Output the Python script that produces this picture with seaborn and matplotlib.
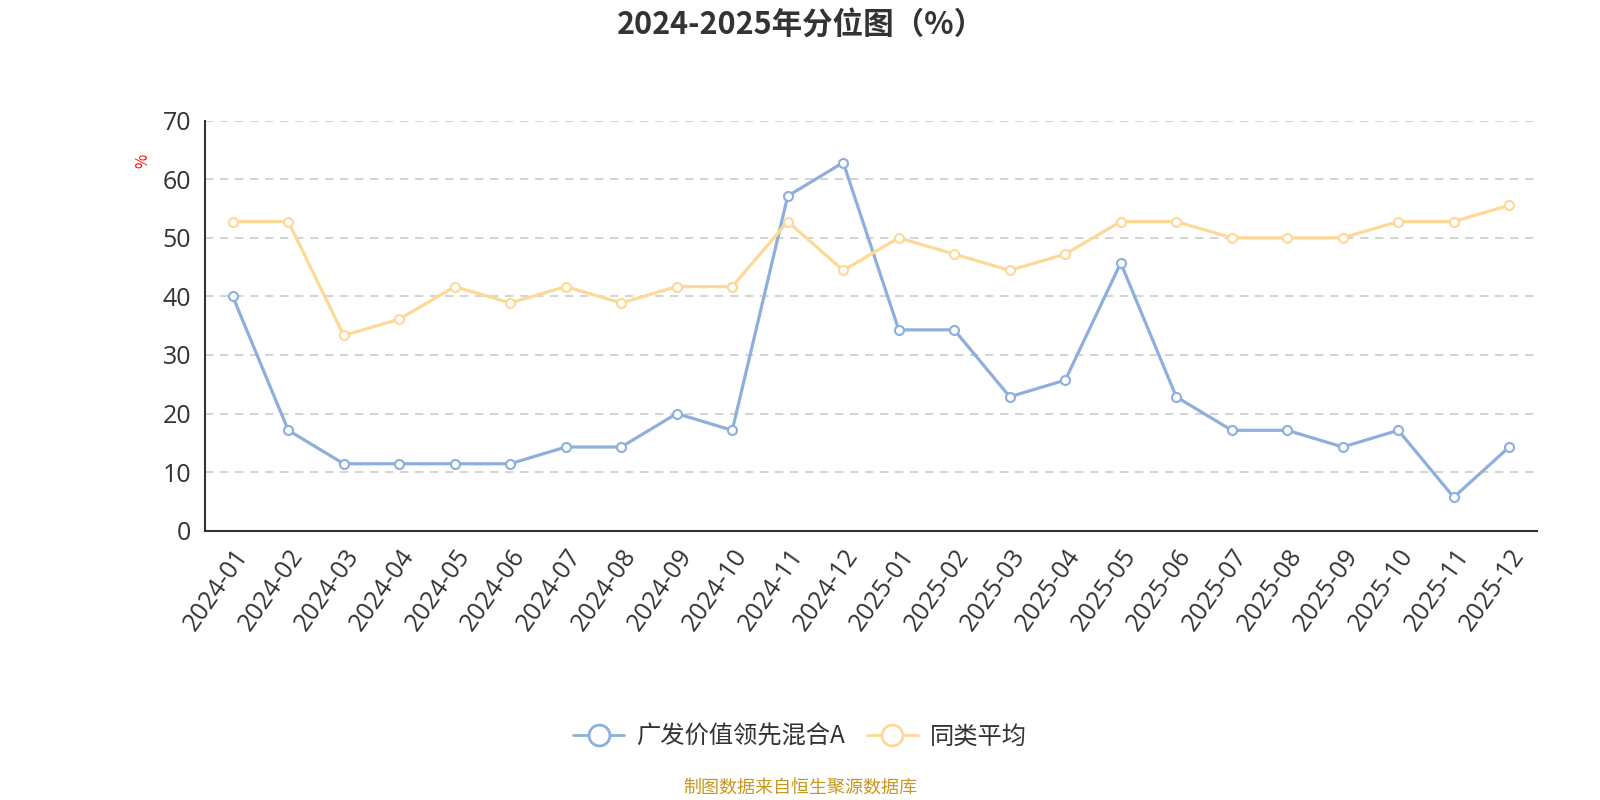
import matplotlib
matplotlib.use("Agg")
import matplotlib.pyplot as plt
from matplotlib.ticker import FixedLocator
from matplotlib.lines import Line2D
import seaborn as sns
import pandas as pd

months = ["2024-01", "2024-02", "2024-03", "2024-04", "2024-05", "2024-06",
          "2024-07", "2024-08", "2024-09", "2024-10", "2024-11", "2024-12",
          "2025-01", "2025-02", "2025-03", "2025-04", "2025-05", "2025-06",
          "2025-07", "2025-08", "2025-09", "2025-10", "2025-11", "2025-12"]
fund_name = "广发价值领先混合A"
peer_name = "同类平均"
fund_values = [40.00, 17.14, 11.43, 11.43, 11.43, 11.43, 14.29, 14.29, 20.00, 17.14,
               57.14, 62.86, 34.29, 34.29, 22.86, 25.71, 45.71, 22.86, 17.14, 17.14,
               14.29, 17.14, 5.71, 14.29]
peer_values = [52.78, 52.78, 33.33, 36.11, 41.67, 38.89, 41.67, 38.89, 41.67, 41.67,
               52.78, 44.44, 50.00, 47.22, 44.44, 47.22, 52.78, 52.78, 50.00, 50.00,
               50.00, 52.78, 52.78, 55.56]
y_ticks = [0, 10, 20, 30, 40, 50, 60, 70]
title_text = "2024-2025年分位图（%）"
unit_text = "%"
source_text = "制图数据来自恒生聚源数据库"

blue = "#8eafdc"
orange = "#fed896"

sns.set_theme(style="white")
plt.rcParams['font.family'] = ['Noto Sans CJK SC', 'DejaVu Sans']
plt.rcParams['axes.unicode_minus'] = False
tick_family = ['Open Sans', 'Noto Sans CJK SC', 'DejaVu Sans']

df = pd.DataFrame({
    "month": months * 2,
    "value": fund_values + peer_values,
    "series": [fund_name] * len(months) + [peer_name] * len(months),
})

fig = plt.figure(figsize=(16, 8), dpi=100)
ax = fig.add_axes([205 / 1600, 1 - 530.7 / 800, (1537 - 205) / 1600, (530.7 - 120.7) / 800])

sns.lineplot(data=df, x="month", y="value", hue="series", sort=False,
             palette={fund_name: blue, peer_name: orange}, ax=ax,
             linewidth=2.3, marker="o", markersize=6.5, markerfacecolor="white",
             markeredgewidth=1.5, legend=False)
for line in ax.get_lines():
    line.set_markeredgecolor(line.get_color())

ax.set_xlim(-0.5, len(months) - 0.5)
ax.set_ylim(0, 70)
ax.yaxis.set_major_locator(FixedLocator(y_ticks))
ax.set_xticks(range(len(months)))
ax.set_xticklabels(months, rotation=55, ha="right", rotation_mode="anchor",
                   fontsize=18, color="#333333", family=tick_family)
ax.xaxis.set_minor_locator(FixedLocator([i - 0.5 for i in range(len(months) + 1)]))
ax.tick_params(axis="x", which="major", length=0, pad=10)
ax.tick_params(axis="x", which="minor", length=6, width=1.5, color="#333333", direction="out")
ax.tick_params(axis="y", which="major", length=6, width=1.5, color="#333333",
               labelsize=18, labelcolor="#333333", pad=4, direction="out")
for lbl in ax.get_yticklabels():
    lbl.set_family(tick_family)
ax.set_xlabel("")
ax.set_ylabel("")

ax.grid(axis="y", linestyle=(0, (5, 4)), color="#cccccc", linewidth=1.2)
ax.set_axisbelow(True)
for side in ["top", "right"]:
    ax.spines[side].set_visible(False)
for side in ["left", "bottom"]:
    ax.spines[side].set_color("#333333")
    ax.spines[side].set_linewidth(1.5)

fig.text(801 / 1600, 1 - 25 / 800, title_text, ha="center", va="center",
         fontsize=22, fontweight="bold", color="#333333")
fig.text(143 / 1600, 1 - 161 / 800, unit_text, ha="center", va="center",
         rotation=90, fontsize=11, color="red")
fig.text(800 / 1600, 1 - 788 / 800, source_text, ha="center", va="center",
         fontsize=13, color="#c9961e")

handles = [
    Line2D([0], [0], color=blue, linewidth=2, marker="o", markersize=15,
           markerfacecolor="white", markeredgecolor=blue, markeredgewidth=2),
    Line2D([0], [0], color=orange, linewidth=2, marker="o", markersize=15,
           markerfacecolor="white", markeredgecolor=orange, markeredgewidth=2),
]
fig.legend(handles, [fund_name, peer_name], loc="center",
           bbox_to_anchor=(800 / 1600, 1 - 737 / 800), ncol=2, frameon=False,
           fontsize=17.5, handlelength=2.1, columnspacing=0.9, handletextpad=0.5,
           labelcolor="#333333")

fig.savefig("out.png", dpi=100)
